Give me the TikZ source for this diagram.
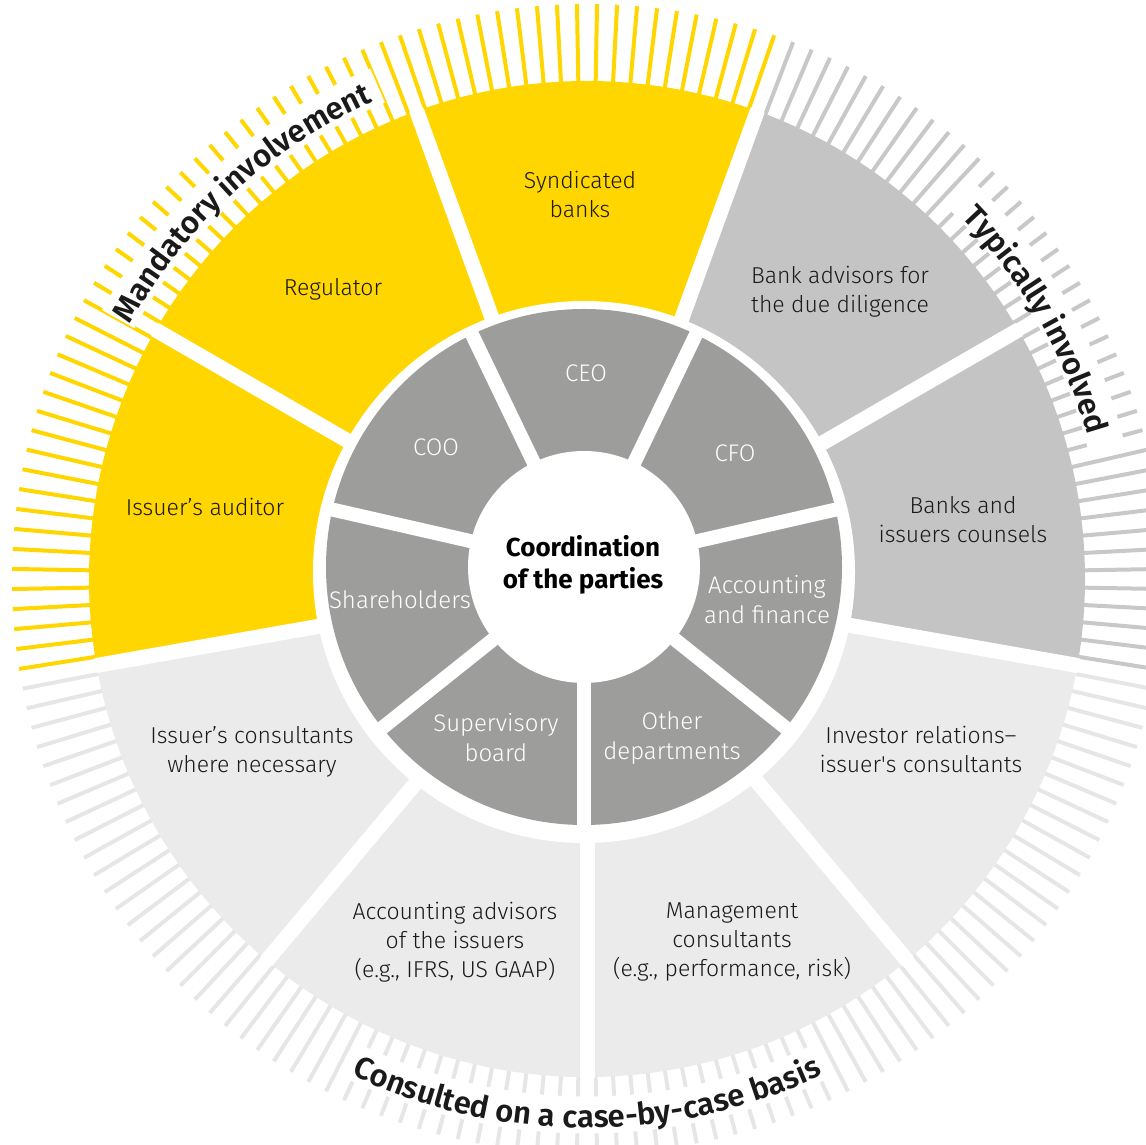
\documentclass[tikz,border=0pt]{standalone}
\usepackage{fontspec}
\setmainfont{Fira Sans}
\IfFontExistsTF{Fira Sans Light}{\newfontfamily\lightfont{Fira Sans Light}}{\newfontfamily\lightfont{Fira Sans}}
\IfFontExistsTF{Fira Sans SemiBold}{\newfontfamily\arcfontfam{Fira Sans SemiBold}}{\newfontfamily\arcfontfam{Fira Sans Bold}}
\newcommand{\arcfont}{\color{txt}\arcfontfam\fontsize{31}{31}\selectfont}
\usetikzlibrary{decorations.text}
\definecolor{eyyellow}{HTML}{FFD600}
\definecolor{midgray}{HTML}{C4C4C4}
\definecolor{palegray}{HTML}{EBEBEB}
\definecolor{ringgray}{HTML}{9D9D9C}
\definecolor{tickgray}{HTML}{C8C8C8}
\definecolor{ticklight}{HTML}{E6E6E6}
\definecolor{txt}{HTML}{1A1A1A}
\begin{document}
\begin{tikzpicture}[x=1pt,y=1pt,
  lbl/.style={align=center, text=txt, font=\lightfont\fontsize{23}{29}\selectfont, inner sep=0pt},
  inlbl/.style={align=center, text=white, font=\lightfont\fontsize{24}{30}\selectfont, inner sep=0pt},
  ctrlbl/.style={align=center, text=black, font=\bfseries\fontsize{26}{32}\selectfont, inner sep=0pt},
  gapline/.style={white, line width=15pt},
  ringgap/.style={white, line width=14pt},
  tickline/.style={line width=4pt},
  band/.style={white, line width=37pt}
]
\useasboundingbox (0,0) rectangle (1146,1144);
\clip (0,0) rectangle (1146,1144);
\coordinate (O) at (587,565);
\coordinate (W) at (584,572);
\coordinate (I) at (584,577);

% ---- tick ring and outer segments ----
\begin{scope}[shift={(587,565)}]
  \foreach \a in {71,73,...,189} \draw[tickline,eyyellow] (\a:488) -- (\a:575);
  \foreach \a in {-9,-7,...,69} \draw[tickline,tickgray] (\a:488) -- (\a:575);
  \foreach \a in {191,193,...,349} \draw[tickline,ticklight] (\a:488) -- (\a:575);

  % white bands under the arc texts
  \draw[band] (151:536) arc[start angle=151, end angle=113, radius=536];
  \draw[band] (45.5:536) arc[start angle=45.5, end angle=14.5, radius=536];
  \draw[band] (244:536) arc[start angle=244, end angle=296, radius=536];

  % outer segments
  \fill[eyyellow] (0,0) -- (150:498) arc[start angle=150, end angle=190, radius=498] -- cycle;
  \fill[eyyellow] (0,0) -- (110:498) arc[start angle=110, end angle=150, radius=498] -- cycle;
  \fill[eyyellow] (0,0) -- (70:498) arc[start angle=70, end angle=110, radius=498] -- cycle;
  \fill[midgray] (0,0) -- (30:498) arc[start angle=30, end angle=70, radius=498] -- cycle;
  \fill[midgray] (0,0) -- (-10:498) arc[start angle=-10, end angle=30, radius=498] -- cycle;
  \fill[palegray] (0,0) -- (190:498) arc[start angle=190, end angle=350, radius=498] -- cycle;
\end{scope}

\fill[white] (W) circle[radius=271];

\begin{scope}[shift={(587,565)}]
  \foreach \a in {150,110,70,30,-10,-50,-90,-130,190} \draw[gapline] (\a:250) -- (\a:499);
\end{scope}

% ---- inner gray ring ----
\fill[ringgray] (I) circle[radius=258];
\begin{scope}[shift={(584,577)}]
  \foreach \k in {0,...,6} \draw[ringgap] (0,0) -- ({64.2857+\k*51.42857}:262);
\end{scope}
\fill[white] (I) circle[radius=116];

% ---- arc texts ----
\begin{scope}[shift={(587,565)}]
  \path[decorate, decoration={text along path, text align=center,
     text={|\arcfont|Mandatory involvement}}]
     (152:523) arc[start angle=152, end angle=113, radius=523];
  \path[decorate, decoration={text along path, text align=center,
     text={|\arcfont|Typically involved}}]
     (45:521) arc[start angle=45, end angle=15, radius=521];
  \path[decorate, decoration={text along path, text align=center,
     text={|\arcfont|Consulted on a case-by-case basis}}]
     (244:549) arc[start angle=244, end angle=296, radius=549];
\end{scope}

% ---- outer labels ----
\node[lbl] (synd) at (580,950) {Syndicated\\banks};
\node[lbl] (reg) at (333,855) {Regulator};
\node[lbl] (aud) at (205,637) {Issuer’s auditor};
\node[lbl] (bankadv) at (840,852) {Bank advisors for\\the due diligence};
\node[lbl] (counsel) at (963,624) {Banks and\\issuers counsels};
\node[lbl] (investor) at (921,395) {Investor relations–\\issuer\textquotesingle s consultants};
\node[lbl] (mgmt) at (732,202) {Management\\consultants\\(e.g., performance, risk)};
\node[lbl] (accadv) at (455,202) {Accounting advisors\\of the issuers\\(e.g., IFRS, US GAAP)};
\node[lbl] (isscons) at (252,392) {Issuer’s consultants\\where necessary};

% ---- inner labels ----
\node[inlbl] (ceo) at (586,771) {CEO};
\node[inlbl] (cfo) at (735,691) {CFO};
\node[inlbl] (accfin) at (767,544) {Accounting\\and finance};
\node[inlbl] (other) at (672,406) {Other\\departments};
\node[inlbl] (superv) at (496,406) {Supervisory\\board};
\node[inlbl] (share) at (400,544) {Shareholders};
\node[inlbl] (coo) at (436,697) {COO};
\node[ctrlbl] (coord) at (583,579) {Coordination\\of the parties};
\end{tikzpicture}
\end{document}
